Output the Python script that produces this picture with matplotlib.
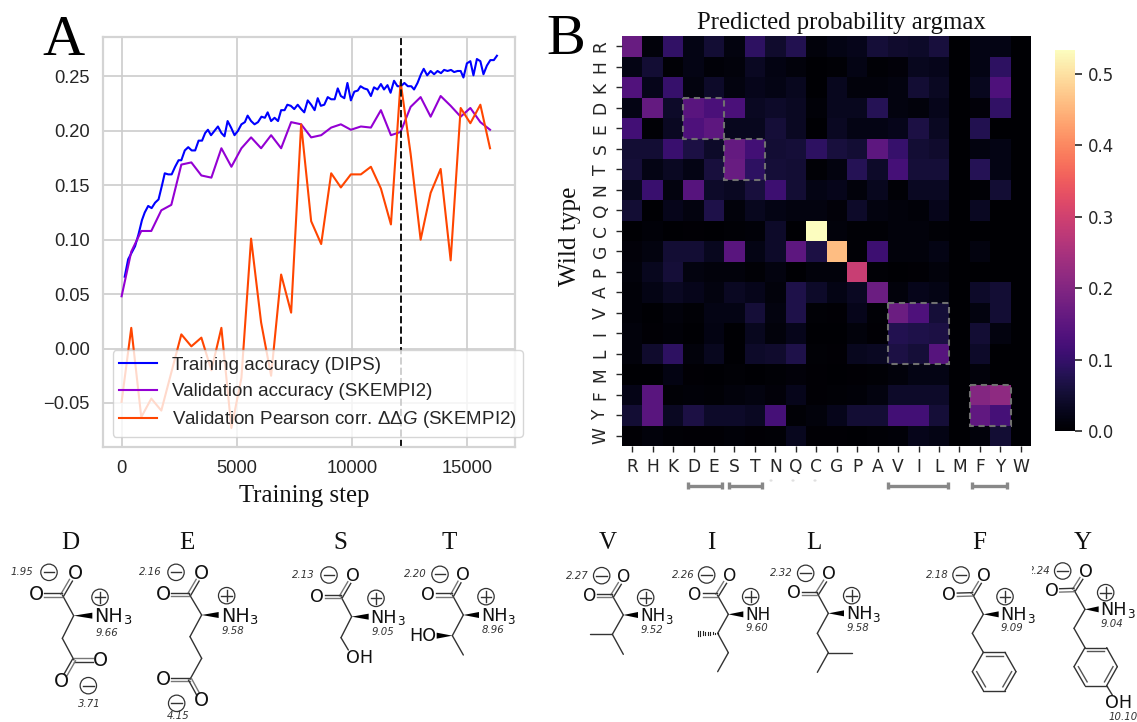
import numpy as np
import matplotlib
matplotlib.use('Agg')
import matplotlib.pyplot as plt
from matplotlib.patches import Circle, Polygon, Rectangle
from matplotlib.transforms import Bbox, TransformedBbox

W, H = 1137, 722

plt.rcParams['font.family'] = ['Liberation Sans', 'DejaVu Sans']
plt.rcParams['mathtext.fontset'] = 'custom'
plt.rcParams['mathtext.rm'] = 'Liberation Sans'
plt.rcParams['mathtext.it'] = 'Liberation Sans:italic'

# panel A
train_steps = [135, 285, 435, 585, 735, 885, 1005, 1155, 1305, 1455, 1605, 1755, 1875, 2025, 2175, 2325,
               2475, 2595, 2745, 2895, 3045, 3195, 3345, 3495, 3630, 3750, 3885, 4035, 4185, 4335, 4470, 4605,
               4755, 4905, 5055, 5205, 5355, 5475, 5625, 5775, 5925, 6075, 6225, 6345, 6495, 6645, 6795, 6930,
               7080, 7200, 7350, 7500, 7650, 7800, 7935, 8085, 8235, 8385, 8520, 8655, 8805, 8955, 9105, 9255,
               9390, 9525, 9675, 9810, 9960, 10110, 10260, 10380, 10530, 10680, 10830, 10965, 11115, 11265, 11400, 11550,
               11685, 11835, 11985, 12135, 12285, 12435, 12585, 12705, 12855, 13005, 13125, 13275, 13425, 13575, 13725, 13875,
               14010, 14160, 14310, 14445, 14595, 14730, 14850, 15000, 15150, 15285, 15435, 15585, 15720, 15870, 16020, 16170,
               16305]
train_acc = [0.066, 0.082, 0.088, 0.094, 0.105, 0.118, 0.125, 0.131, 0.129, 0.134, 0.137, 0.150, 0.161, 0.160, 0.160, 0.167,
             0.173, 0.173, 0.182, 0.185, 0.182, 0.182, 0.191, 0.191, 0.198, 0.201, 0.196, 0.200, 0.204, 0.198, 0.195, 0.209,
             0.203, 0.196, 0.200, 0.206, 0.208, 0.214, 0.209, 0.206, 0.208, 0.213, 0.212, 0.217, 0.209, 0.212, 0.209, 0.219,
             0.219, 0.224, 0.223, 0.220, 0.224, 0.220, 0.217, 0.228, 0.224, 0.219, 0.230, 0.223, 0.224, 0.231, 0.229, 0.229,
             0.239, 0.232, 0.230, 0.244, 0.228, 0.236, 0.237, 0.241, 0.239, 0.238, 0.232, 0.240, 0.238, 0.243, 0.238, 0.242,
             0.235, 0.246, 0.241, 0.241, 0.244, 0.241, 0.241, 0.238, 0.244, 0.252, 0.257, 0.251, 0.255, 0.252, 0.255, 0.253,
             0.256, 0.255, 0.256, 0.254, 0.255, 0.255, 0.249, 0.262, 0.264, 0.251, 0.266, 0.264, 0.252, 0.260, 0.265, 0.265,
             0.269]
val_steps = [0, 420, 855, 1290, 1725, 2160, 2595, 3030, 3465, 3900, 4335, 4770, 5205, 5625, 6060, 6495, 6930, 7365, 7800,
             8235, 8670, 9105, 9525, 9960, 10395, 10830, 11265, 11700, 12120, 12555, 12990, 13425, 13860, 14295, 14730,
             15150, 15585, 16005]
val_acc = [0.048, 0.089, 0.108, 0.108, 0.127, 0.132, 0.169, 0.171, 0.159, 0.157, 0.184, 0.167, 0.184, 0.194, 0.184, 0.196,
           0.184, 0.208, 0.206, 0.194, 0.196, 0.203, 0.206, 0.201, 0.204, 0.203, 0.219, 0.196, 0.199, 0.222, 0.231, 0.213,
           0.232, 0.223, 0.213, 0.221, 0.208, 0.201]
val_pearson = [-0.049, 0.019, -0.063, -0.046, -0.057, -0.022, 0.013, 0.002, 0.010, -0.020, 0.019, -0.073, -0.027, 0.101,
               0.024, -0.025, 0.068, 0.033, 0.206, 0.117, 0.096, 0.161, 0.148, 0.160, 0.160, 0.167, 0.147, 0.114, 0.245,
               0.179, 0.100, 0.143, 0.165, 0.081, 0.221, 0.207, 0.224, 0.184]
best_step = 12120
line_labels = ['Training accuracy (DIPS)', 'Validation accuracy (SKEMPI2)',
               r'Validation Pearson corr. $\Delta\Delta G$ (SKEMPI2)']

# panel B
residues = ['R', 'H', 'K', 'D', 'E', 'S', 'T', 'N', 'Q', 'C', 'G', 'P', 'A', 'V', 'I', 'L', 'M', 'F', 'Y', 'W']
probs = [
    [.165, .012, .095, .020, .050, .015, .090, .045, .075, .012, .020, .025, .055, .045, .040, .060, 0, .020, .020, 0],
    [.020, .050, .005, .020, .008, .012, .035, .018, .012, .002, .006, .020, .006, .010, .030, .025, 0, .020, .090, 0],
    [.135, .025, .100, .015, .040, .015, .025, .020, .030, .002, .030, .012, .012, .015, .050, .035, 0, .030, .130, 0],
    [.020, .160, .040, .145, .125, .125, .035, .040, .035, .008, .030, .030, .080, .015, .012, .025, 0, .010, .095, 0],
    [.115, .006, .035, .130, .150, .030, .030, .055, .035, .002, .035, .020, .020, .025, .065, .035, 0, .075, 0, 0],
    [.050, .050, .105, .065, .040, .160, .115, .050, .055, .090, .060, .050, .150, .100, .050, .045, 0, .015, .020, 0],
    [.055, .020, .035, .020, .060, .165, .090, .055, .050, .005, .015, .080, .040, .120, .055, .055, 0, .080, .020, 0],
    [.030, .105, .015, .140, .040, .035, .060, .110, .050, .020, .025, .012, .030, .005, .035, .035, 0, .005, .050, 0],
    [.050, .002, .025, .015, .070, .012, .030, .020, .015, .015, .010, .040, .015, .012, .008, .025, 0, .035, 0, 0],
    [0, .008, .002, .003, .001, .006, .008, .040, .001, .535, .012, .005, .005, .012, .012, .006, 0, 0, 0, 0],
    [.010, .015, .050, .050, .030, .145, .020, .040, .150, .065, .460, .005, .110, .012, .012, .020, 0, .015, 0, 0],
    [.012, .030, .055, .015, .012, .012, .006, .015, 0, .012, .012, .290, .006, 0, .004, .012, 0, 0, 0, 0],
    [.008, .020, .035, .025, .015, .035, .025, .012, .070, .040, .020, .035, .170, .012, .025, .020, 0, .040, .050, 0],
    [.008, .002, .012, .005, .020, .020, .055, .015, .070, .006, .004, .025, .005, .170, .130, .055, 0, .015, .050, 0],
    [.012, .003, .008, 0, .018, 0, .030, .012, .025, 0, .002, .012, .004, .075, .070, .065, 0, .050, .015, 0],
    [.012, .045, .090, .012, .030, 0, .040, .045, .070, .006, .004, .030, .035, .065, .055, .140, 0, .040, 0, 0],
    [.002, 0, .018, .003, .002, .006, .002, .005, .010, .003, 0, .004, .005, .012, .020, .020, 0, .012, 0, 0],
    [.022, .145, .005, .008, .006, .012, .015, .010, .025, .003, .006, .008, .015, .040, .040, .040, 0, .200, .215, 0],
    [.050, .145, .035, .065, .040, .040, .035, .120, .005, .012, .025, .050, .050, .115, .115, .055, 0, .155, .120, 0],
    [.004, .012, .006, .004, .003, .008, .003, .006, .030, .003, .003, 0, .006, .007, .025, .020, 0, .012, .050, 0],
]
cbar_ticks = [0.0, 0.1, 0.2, 0.3, 0.4, 0.5]
groups = [('D', 'E'), ('S', 'T'), ('V', 'L'), ('F', 'Y')]


def px_axes(left, top, right, bottom):
    return fig.add_axes([left / W, 1 - bottom / H, (right - left) / W, (bottom - top) / H])


fig = plt.figure(figsize=(W / 100, H / 100), dpi=100)
ink = '#262626'
serif = 'Liberation Serif'

# A: training curves
ax = px_axes(103, 36.7, 515, 446.7)
ax.plot(train_steps, train_acc, color='blue', lw=1.5, label=line_labels[0])
ax.plot(val_steps, val_acc, color='darkviolet', lw=1.5, label=line_labels[1])
ax.plot(val_steps, val_pearson, color='orangered', lw=1.5, label=line_labels[2])
ax.axvline(best_step, color='#111111', ls='--', lw=1.4)
ax.set_xlim(-808, 17090)
ax.set_ylim(-0.0902, 0.2865)
ax.set_xticks([0, 5000, 10000, 15000])
ax.set_yticks([-0.05, 0.0, 0.05, 0.10, 0.15, 0.20, 0.25])
ax.grid(color='#cccccc', lw=1.2)
ax.set_axisbelow(True)
ax.tick_params(length=0, labelsize=13.2, labelcolor=ink, pad=9.5)
for s in ax.spines.values():
    s.set_color('#d4d4d4')
    s.set_linewidth(1.6)
leg = ax.legend(loc='lower left', bbox_to_anchor=(112.6 / W, 1 - 437 / H), bbox_transform=fig.transFigure,
                borderaxespad=0, fontsize=13.5, framealpha=0.8, edgecolor='#cccccc', labelcolor=ink,
                labelspacing=0.5, borderpad=0.35)
leg.set_zorder(10)

# B: heatmap
hm = px_axes(622, 36, 1031, 446)
mesh = hm.pcolormesh(np.array(probs), cmap='magma', vmin=0, vmax=0.533)
hm.set_xlim(0, 20)
hm.set_ylim(20, 0)
tick_pos = np.arange(len(residues)) + 0.5
hm.set_xticks(tick_pos)
hm.set_xticklabels(residues, family='DejaVu Sans')
hm.set_yticks(tick_pos)
hm.set_yticklabels(residues, family='DejaVu Sans', rotation=90, va='center')
hm.tick_params(length=4.5, width=1, color=ink, labelcolor=ink, labelsize=12.3, pad=4.5)
for s in hm.spines.values():
    s.set_visible(False)
for first, last in groups:
    i0, i1 = residues.index(first), residues.index(last) + 1
    hm.add_patch(Rectangle((i0, i0), i1 - i0, i1 - i0, fill=False, ec='#707070', lw=1.5, ls=(0, (3, 2.2)),
                           clip_on=False))

cax = px_axes(1055, 50, 1075, 431)
cbar = fig.colorbar(mesh, cax=cax)
cbar.set_ticks(cbar_ticks)
cbar.set_ticklabels([f'{t:.1f}' for t in cbar_ticks], family='DejaVu Sans')
cbar.ax.tick_params(length=5, width=1.2, color=ink, labelcolor=ink, labelsize=12, pad=4)
cbar.outline.set_visible(False)

# overlay in pixel coordinates for titles and the chemical structures
ov = px_axes(0, 0, W, H)
ov.set_xlim(0, W)
ov.set_ylim(H, 0)
ov.axis('off')
ov.patch.set_alpha(0)

ov.text(63, 55, 'A', family=serif, fontsize=42, ha='center', va='baseline', color='black')
ov.text(565.5, 54, 'B', family=serif, fontsize=42, ha='center', va='baseline', color='black')
ov.text(304.5, 502, 'Training step', family=serif, fontsize=17.8, ha='center', va='baseline', color='#111111')
ov.text(841.5, 29, 'Predicted probability argmax', family=serif, fontsize=17.8, ha='center', va='baseline',
        color='#111111')
ov.text(570, 236.5, 'Wild type', family=serif, fontsize=18.2, rotation=90, ha='center', va='center', color='#111111')

# range brackets under the heatmap
for x0, x1 in [(688, 722), (729, 762), (888, 948), (972, 1007)]:
    ov.plot([x0, x1], [485.7, 485.7], color='#888888', lw=2.4, solid_capstyle='butt')
    for xe in (x0, x1):
        ov.plot([xe, xe], [482.3, 489], color='#888888', lw=2.4, solid_capstyle='butt')
# traces of a cut off label
ov.plot([770, 771, 792, 793, 814, 815], [480] * 6, ls='none', marker='.', ms=1, color='#dddddd')

bond_color = '#333333'
bond_lw = 1.0


def bond(a, b, double=False, gap=1.7, trim_a=0, trim_b=0):
    a, b = np.array(a, float), np.array(b, float)
    u = (b - a) / np.hypot(*(b - a))
    a = a + u * trim_a
    b = b - u * trim_b
    if double:
        n = np.array([-u[1], u[0]]) * gap
        ov.plot([a[0] + n[0], b[0] + n[0]], [a[1] + n[1], b[1] + n[1]], color=bond_color, lw=bond_lw)
        ov.plot([a[0] - n[0], b[0] - n[0]], [a[1] - n[1], b[1] - n[1]], color='#777777', lw=bond_lw)
    else:
        ov.plot([a[0], b[0]], [a[1], b[1]], color=bond_color, lw=bond_lw, solid_capstyle='round')


def atom(xy, label, size=13.8):
    ov.text(xy[0], xy[1], label, family='DejaVu Sans', fontsize=size, ha='center', va='center', color='#111111')


def charge(xy, sign):
    ov.add_patch(Circle(xy, 8.2, fill=False, ec=bond_color, lw=0.9))
    ov.plot([xy[0] - 5.2, xy[0] + 5.2], [xy[1], xy[1]], color=bond_color, lw=1.0)
    if sign > 0:
        ov.plot([xy[0], xy[0]], [xy[1] - 5.2, xy[1] + 5.2], color=bond_color, lw=1.0)


def pka(xy, value, size=7.3):
    return ov.text(xy[0], xy[1], value, family='DejaVu Sans', style='italic', fontsize=size, ha='center', va='center',
                   color='#333333')


def wedge(a, b, width=3.0):
    a, b = np.array(a, float), np.array(b, float)
    u = (b - a) / np.hypot(*(b - a))
    n = np.array([-u[1], u[0]]) * width
    ov.add_patch(Polygon([a, b + n, b - n], closed=True, fc='black', ec='none'))


def head(ox, oy, alpha, carb, otop, oleft, minus, pk1, plus, n_x, pk2, pk1_val, pk2_val, size=13.8, amine='NH3'):
    # coordinates are read in zoomed crop pixels (3x) relative to crop origin
    P = lambda p: (ox + p[0] / 3, oy + p[1] / 3)
    bond(P(alpha), P(carb))
    bond(P(carb), P(otop), double=True, trim_b=8)
    bond(P(carb), P(oleft), double=True, trim_b=8)
    atom(P(otop), 'O', size)
    atom(P(oleft), 'O', size)
    charge(P(minus), -1)
    charge(P(plus), 1)
    first = pka(P(pk1), pk1_val)
    pka(P(pk2), pk2_val)
    ay = P(alpha)[1]
    wedge(P(alpha), (ox + n_x / 3 - 2, ay))
    sx = ox + n_x / 3
    ov.text(sx, ay + 1, 'NH', family='DejaVu Sans', fontsize=size, ha='left', va='center', color='#111111')
    if amine == 'NH3':
        ov.text(sx + 2.08 * size, ay + 5, '3', family='DejaVu Sans', fontsize=size * 0.68, ha='left', va='center',
                color='#111111')
    return P, first


def chain(P, pts):
    for a, b in zip(pts[:-1], pts[1:]):
        bond(P(a), P(b))


def ring(P, pts, doubles):
    c = np.mean(pts, axis=0)
    n = len(pts)
    for i in range(n):
        bond(P(pts[i]), P(pts[(i + 1) % n]))
        if i in doubles:
            a = np.array(pts[i], float) + (c - np.array(pts[i])) * 0.2
            b = np.array(pts[(i + 1) % n], float) + (c - np.array(pts[(i + 1) % n])) * 0.2
            ov.plot(*zip(P(a), P(b)), color='#555555', lw=bond_lw)


for name, x in [('D', 70.7), ('E', 187), ('S', 340.7), ('T', 449), ('V', 607.7), ('I', 711), ('L', 814),
                ('F', 979), ('Y', 1083)]:
    ov.text(x, 549, name, family=serif, fontsize=18, ha='center', va='baseline', color='#111111')

# D
P, _ = head(0, 525, (221, 272), (187, 210), (225, 145), (108, 210), (147, 142), (67, 142), (300, 217), 283, (320, 325),
            '1.95', '9.66')
chain(P, [(221, 272), (187, 340), (222, 405)])
bond(P((222, 405)), P((302, 405)), double=True, trim_b=8)
bond(P((222, 405)), P((185, 470)), double=True, trim_b=8)
atom(P((302, 405)), 'O')
atom(P((185, 470)), 'O')
charge(P((265, 482)), -1)
pka(P((267, 537)), '3.71')

# E
P, _ = head(0, 525, (605, 270), (568, 208), (605, 145), (490, 208), (528, 142), (452, 140), (680, 212), 662, (698, 318),
            '2.16', '9.58')
chain(P, [(605, 270), (570, 335), (605, 400), (570, 463)])
bond(P((570, 463)), P((490, 463)), double=True, trim_b=8)
bond(P((570, 463)), P((605, 527)), double=True, trim_b=8)
atom(P((490, 463)), 'O')
atom(P((605, 527)), 'O')
charge(P((530, 535)), -1)
pka(P((535, 573)), '4.15')

# S
P, _ = head(280, 525, (215, 275), (183, 215), (220, 152), (110, 215), (147, 150), (70, 150), (288, 220), 272, (308, 322),
            '2.13', '9.05', size=12.7)
chain(P, [(215, 275), (183, 338), (205, 375)])
atom(P((238, 400)), 'OH', 12.7)

# T
P, _ = head(280, 525, (550, 270), (517, 210), (550, 150), (445, 210), (480, 148), (407, 148), (618, 215), 603, (638, 316),
            '2.20', '8.96', size=12.7)
chain(P, [(550, 270), (517, 332), (550, 390)])
wedge(P((517, 332)), P((470, 332)))
atom(P((427, 332)), 'HO', 12.7)

# V
P, _ = head(560, 525, (190, 270), (157, 212), (192, 155), (88, 212), (125, 152), (53, 152), (257, 218), 240, (275, 316),
            '2.27', '9.52', size=12.2)
chain(P, [(190, 270), (157, 328), (90, 328)])
chain(P, [(157, 328), (190, 388)])

# I
P, _ = head(560, 525, (505, 268), (472, 210), (508, 152), (405, 210), (440, 150), (370, 150), (572, 215), 556, (590, 310),
            '2.26', '9.60', size=12.2, amine='NH')
chain(P, [(505, 268), (473, 325), (505, 383), (473, 440)])
for k in range(9):
    hx = 473 - 7.5 * k
    ov.plot(*zip(P((hx, 325 - 1 - k * 0.9)), P((hx, 325 + 1 + k * 0.9))), color='#222222', lw=0.8)

# L
P, _ = head(560, 525, (805, 265), (772, 205), (808, 148), (702, 205), (737, 145), (665, 145), (875, 212), 858, (895, 310),
            '2.32', '9.58', size=12.7)
chain(P, [(805, 265), (772, 325), (805, 383), (875, 383)])
chain(P, [(805, 383), (772, 442)])

# F
P, _ = head(860, 525, (370, 268), (338, 208), (372, 152), (268, 210), (303, 150), (233, 150), (435, 215), 422, (455, 310),
            '2.18', '9.09', size=12.7)
chain(P, [(370, 268), (337, 325), (370, 382)])
ring(P, [(370, 382), (435, 382), (468, 440), (435, 497), (370, 497), (337, 440)], (0, 2, 4))

# Y, its first pKa is cut by the crop of the structure image
P, pk = head(860, 525, (675, 253), (642, 195), (677, 140), (575, 197), (608, 138), (537, 138), (737, 203), 722, (757, 296),
             '2.24', '9.04', size=12.7)
pk.set_clip_box(TransformedBbox(Bbox([[1032, 560], [1092, 590]]), ov.transData))
pk.set_clip_on(True)
chain(P, [(675, 253), (642, 310), (675, 368)])
ring(P, [(675, 368), (740, 368), (772, 425), (740, 482), (675, 482), (642, 425)], (0, 2, 4))
bond(P((740, 482)), P((757, 510)))
atom(P((775, 533)), 'OH', 12.7)
pka(P((788, 575)), '10.10')

fig.savefig('out.png', dpi=100)
